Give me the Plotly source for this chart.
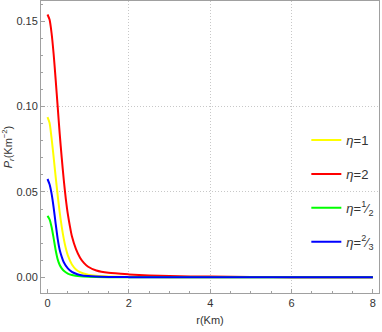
import plotly.graph_objects as go

# ---- data ----
r_red = [0, 0.05, 0.1, 0.15, 0.2, 0.25, 0.3, 0.35, 0.4, 0.45, 0.5, 0.55, 0.6, 0.7, 0.8, 0.9, 1.0, 1.2, 1.5, 2.0, 2.5, 3.0, 4.0, 5.0, 6.0, 8.0]
p_red = [0.154, 0.151, 0.143, 0.131, 0.116, 0.100, 0.084, 0.070, 0.057, 0.046, 0.037, 0.030, 0.024, 0.0165, 0.0115, 0.0083, 0.0062, 0.0040, 0.0026, 0.0017, 0.0011, 0.0007, 0.0004, 0.0002, 0.0001, 0.00005]

r_yellow = [0, 0.05, 0.1, 0.15, 0.2, 0.25, 0.3, 0.35, 0.4, 0.45, 0.5, 0.6, 0.7, 0.8, 1.0, 1.2, 1.5, 2.0, 3.0, 8.0]
p_yellow = [0.0938, 0.0905, 0.0815, 0.0705, 0.0590, 0.0480, 0.0380, 0.0295, 0.0225, 0.0170, 0.0128, 0.0075, 0.0046, 0.0030, 0.0015, 0.0009, 0.0005, 0.0002, 0.0001, 0.0]

r_blue = [0, 0.05, 0.1, 0.15, 0.2, 0.25, 0.3, 0.35, 0.4, 0.5, 0.6, 0.7, 0.8, 1.0, 1.5, 2.0, 8.0]
p_blue = [0.0576, 0.0545, 0.0490, 0.0410, 0.0315, 0.0225, 0.0160, 0.0120, 0.0088, 0.0052, 0.0032, 0.0021, 0.0014, 0.0007, 0.0002, 0.0001, 0.0]

r_green = [0, 0.05, 0.1, 0.15, 0.2, 0.25, 0.3, 0.35, 0.4, 0.5, 0.6, 0.8, 1.0, 1.5, 8.0]
p_green = [0.0360, 0.0340, 0.0295, 0.0230, 0.0160, 0.0105, 0.0072, 0.0052, 0.0038, 0.0022, 0.0014, 0.0006, 0.0003, 0.0001, 0.0]

x_ticks = [0, 2, 4, 6, 8]
y_ticks = [0.00, 0.05, 0.10, 0.15]
y_ticklabels = ["0.00", "0.05", "0.10", "0.15"]
x_grid = [2, 4, 6]
y_grid = [0.05, 0.10]

FONT = "Liberation Sans Narrow, Liberation Sans, Arial"

fig = go.Figure()
series = [
    (r_yellow, p_yellow, "#FFFF00", "<i>η</i>=1"),
    (r_red, p_red, "#FF0000", "<i>η</i>=2"),
    (r_green, p_green, "#00FF00", "<i>η</i>=<sup>1</sup>⁄<sub>2</sub>"),
    (r_blue, p_blue, "#0000FF", "<i>η</i>=<sup>2</sup>⁄<sub>3</sub>"),
]
for i, (x, y, c, name) in enumerate(series):
    fig.add_trace(go.Scatter(x=x, y=y, mode="lines", name=name,
                             line=dict(color=c, width=2, shape="spline", smoothing=0.6),
                             legendgroup=str(i)))

# grid-only overlay axes
fig.add_trace(go.Scatter(x=[None], y=[None], xaxis="x2", yaxis="y2", showlegend=False))

axis_common = dict(showline=True, linecolor="#a0a0a0", linewidth=1, mirror=True,
                   ticks="inside", ticklen=4, tickcolor="#a0a0a0", zeroline=False,
                   showgrid=False, automargin=False,
                   tickfont=dict(family=FONT, size=11, color="#333333"))

grid_common = dict(showticklabels=False, showgrid=True, gridcolor="#c8c8c8",
                   griddash="1px,2px", gridwidth=1, zeroline=False, showline=False,
                   ticks="", automargin=False)

fig.update_layout(
    width=382, height=332,
    margin=dict(l=41, r=3, t=1, b=39),
    paper_bgcolor="white", plot_bgcolor="white",
    font=dict(family=FONT, size=11, color="#333333"),
    xaxis=dict(range=[-0.16, 8.15], tickvals=x_ticks,
               minor=dict(dtick=0.5, tick0=0, ticks="inside", ticklen=2, tickcolor="#a0a0a0"),
               title=dict(text="r(Km)", font=dict(family=FONT, size=11, color="#333333"), standoff=8),
               **axis_common),
    yaxis=dict(range=[-0.0092, 0.1619], tickvals=y_ticks, ticktext=y_ticklabels,
               minor=dict(dtick=0.01, tick0=0, ticks="inside", ticklen=2, tickcolor="#a0a0a0"),
               title=dict(text="<i>P</i><sub><i>r</i></sub>(Km<sup>−2</sup>)",
                          font=dict(family=FONT, size=11, color="#333333"), standoff=3),
               **axis_common),
    xaxis2=dict(overlaying="x", range=[-0.16, 8.15], tickvals=x_grid, **grid_common),
    yaxis2=dict(overlaying="y", range=[-0.0092, 0.1619], tickvals=y_grid, **grid_common),
    legend=dict(x=0.785, y=0.575, xanchor="left", yanchor="top", bgcolor="rgba(0,0,0,0)",
                borderwidth=0, tracegroupgap=14,
                font=dict(family=FONT, size=13, color="#333333")),
)

fig.write_html("out.html", config={"displayModeBar": False},
               post_script="document.body.style.margin='0';document.body.style.padding='0';")
